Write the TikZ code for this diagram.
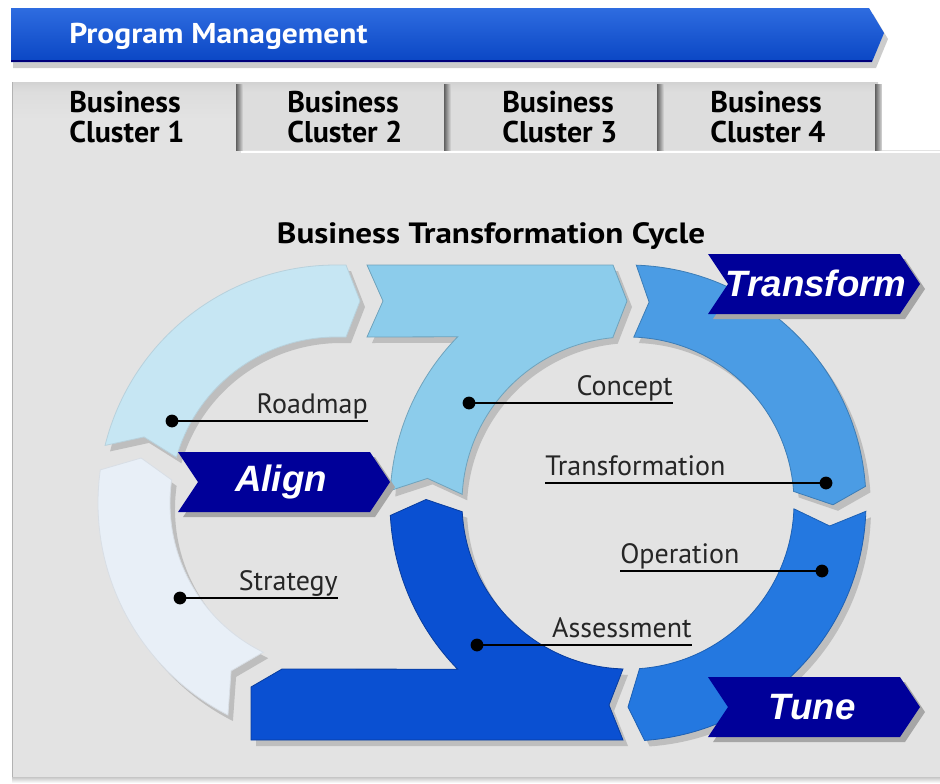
\documentclass[tikz,border=0pt]{standalone}
\usepackage{fontspec}
\setmainfont{PT Sans}
\newfontfamily\arialfont{Liberation Sans}
\usetikzlibrary{calc}
\definecolor{panelgray}{HTML}{E3E3E3}
\definecolor{tabgray}{HTML}{DDDDDD}
\definecolor{cStrat}{HTML}{E8EFF7}
\definecolor{cRoad}{HTML}{C6E6F3}
\definecolor{cConc}{HTML}{8CCCEB}
\definecolor{cTrans}{HTML}{4B9CE4}
\definecolor{cOper}{HTML}{2478E0}
\definecolor{cAsse}{HTML}{0A50D2}
\definecolor{navy}{RGB}{0,0,153}
\definecolor{pmtop}{HTML}{2E6CE0}
\definecolor{pmbot}{HTML}{0A46C4}
\begin{document}
\begin{tikzpicture}[x=0.75pt,y=-0.75pt,
  piece/.style={line width=0.6pt},
  pshadow/.style={fill=black,opacity=0.16},
  lbl/.style={inner sep=0pt,font=\fontsize{21}{24}\selectfont,text=black!85},
  leader/.style={line width=1.5pt,black},
  tabtxt/.style={inner sep=0pt,align=left,font=\bfseries\fontsize{22.5}{22.5}\selectfont},
  bantxt/.style={inner sep=0pt,text=white,font=\arialfont\bfseries\itshape\fontsize{27.5}{30}\selectfont},
  banshadow/.style={fill=gray!70},
  banfill/.style={fill=navy}
]
\useasboundingbox (0,0) rectangle (940,783);
\fill[white] (0,0) rectangle (940,783);

% ---- panel and tabs
\fill[panelgray] (12,150) rectangle (940,777);
\shade[top color=gray!45,bottom color=white] (12,777) rectangle (940,783);
\shade[top color=gray!35,bottom color=tabgray] (12,82) rectangle (878,92);
\fill[tabgray] (12,92) rectangle (878,150);
\fill[panelgray] (12,120) rectangle (239,150);
\shade[top color=tabgray,bottom color=panelgray] (12,92) rectangle (239,120);
\draw[white,line width=1.5pt] (241,151.5) -- (940,151.5);
\draw[gray!60,line width=0.8pt] (12.5,82) -- (12.5,777);
\foreach \sx in {239,447,660,878}{
  \shade[left color=gray!75!black,right color=tabgray] (\sx-3,84) rectangle (\sx+4,150);
}
\fill[white] (882,82) rectangle (940,150);

% ---- program management bar
\fill[black,opacity=0.2] (13,14) -- (873,14) -- (888,39) -- (876,68) -- (13,68) -- cycle;
\shade[top color=pmtop,bottom color=pmbot] (11,8) -- (869,8) -- (884,33) -- (872,62) -- (11,62) -- cycle;
\draw[navy!80!black,line width=1.5pt] (11,61) -- (872,61);
\node[inner sep=0pt,anchor=base west,text=white,font=\bfseries\fontsize{21.5}{24}\selectfont] (pm) at (69,43) {\scalebox{1.1}[1]{Program Management}};

% ---- tabs text
\node[tabtxt,anchor=north west] (tab1) at (69,91) {Business\\Cluster 1};
\node[tabtxt,anchor=north west] (tab2) at (287,91) {Business\\Cluster 2};
\node[tabtxt,anchor=north west] (tab3) at (502,91) {Business\\Cluster 3};
\node[tabtxt,anchor=north west] (tab4) at (710,91) {Business\\Cluster 4};

% ---- title
\node[inner sep=0pt,anchor=base,font=\bfseries\fontsize{22}{24}\selectfont] (title) at (491,243) {\scalebox{1.13}[1]{Business Transformation Cycle}};

% ---- cycle pieces
\def\pStrat{([shift={(188:238)}]336,503) -- ([shift={(193:200)}]336,503) -- ([shift={(188:166)}]336,503) arc[start angle=188,end angle=116,radius=166] -- ([shift={(122:198)}]336,503) -- ([shift={(117:238)}]336,503) arc[start angle=117,end angle=188,radius=238] -- cycle}
\def\pRoad{([shift={(194:238)}]336,503) arc[start angle=194,end angle=270,radius=238] -- (346,265) -- (360,301) -- (346,337) -- ([shift={(270:166)}]336,503) arc[start angle=270,end angle=196,radius=166] -- ([shift={(199:203)}]336,503) -- cycle}
\def\pConc{(367,265) -- (613,265) -- (627,301) -- (613,337) -- ([shift={(264.8:166)}]628,503) arc[start angle=264.8,end angle=183,radius=166] -- ([shift={(187:202)}]628,503) -- ([shift={(183:238)}]628,503) arc[start angle=183,end angle=224.3,radius=238] -- (367,337) -- (383,301) -- cycle}
\def\pAsse{(282,669) -- ([shift={(135.7:238)}]628,503) arc[start angle=135.7,end angle=177,radius=238] -- ([shift={(181:202)}]628,503) -- ([shift={(177:166)}]628,503) arc[start angle=177,end angle=95,radius=166] -- (623,669) -- (609,705) -- (623,740) -- (251,740) -- (251,687) -- cycle}
\def\pTrans{([shift={(272:238)}]628,503) arc[start angle=272,end angle=356,radius=238] -- ([shift={(0.5:205)}]628,503) -- ([shift={(356:166)}]628,503) arc[start angle=356,end angle=272,radius=166] -- ([shift={(276:202)}]628,503) -- cycle}
\def\pOper{([shift={(2:238)}]628,503) -- ([shift={(6.5:203)}]628,503) -- ([shift={(2:166)}]628,503) arc[start angle=2,end angle=86,radius=166] -- ([shift={(90:204)}]628,503) -- ([shift={(86:238)}]628,503) arc[start angle=86,end angle=2,radius=238] -- cycle}

\foreach \pp in {\pStrat,\pRoad,\pConc,\pAsse,\pTrans,\pOper}{
  \fill[pshadow,shift={(5,6)}] \pp;
}
\filldraw[piece,fill=cStrat,draw=cStrat!85!gray] \pStrat;
\filldraw[piece,fill=cRoad,draw=cRoad!80!gray] \pRoad;
\filldraw[piece,fill=cConc,draw=cConc!80!black] \pConc;
\filldraw[piece,fill=cAsse,draw=cAsse!75!black] \pAsse;
\filldraw[piece,fill=cTrans,draw=cTrans!80!black] \pTrans;
\filldraw[piece,fill=cOper,draw=cOper!80!black] \pOper;

% ---- labels with leaders
\node[lbl,anchor=base east] (tRoad) at (368,413) {Roadmap};
\coordinate (dRoad) at (172,421);
\node[lbl,anchor=base east] (tConc) at (673,395) {Concept};
\coordinate (dConc) at (469,403);
\node[lbl,anchor=base west] (tTrans) at (545,475) {Transformation};
\coordinate (dTrans) at (826,483);
\node[lbl,anchor=base west] (tOper) at (620,563) {Operation};
\coordinate (dOper) at (822,571);
\node[lbl,anchor=base east] (tAsse) at (692,637) {Assessment};
\coordinate (dAsse) at (477,645);
\node[lbl,anchor=base east] (tStrat) at (338,590) {Strategy};
\coordinate (dStrat) at (180,598);

\draw[leader] (dRoad) -- (dRoad -| tRoad.east);
\draw[leader] (dConc) -- (dConc -| tConc.east);
\draw[leader] (tTrans.west |- dTrans) -- (dTrans);
\draw[leader] (tOper.west |- dOper) -- (dOper);
\draw[leader] (dAsse) -- (dAsse -| tAsse.east);
\draw[leader] (dStrat) -- (dStrat -| tStrat.east);
\foreach \dd in {dRoad,dConc,dTrans,dOper,dAsse,dStrat}{
  \fill[black] (\dd) circle[radius=4.8pt];
}

% ---- banners
\def\banner#1#2{(#1,#2) -- ++(192,0) -- ++(20,30) -- ++(-20,30) -- ++(-192,0) -- ++(20,-30) -- cycle}
\fill[banshadow] \banner{183}{457};
\fill[banfill] \banner{178}{452};
\node[bantxt,anchor=base] (bAlign) at (281,491) {Align};
\fill[banshadow] \banner{713}{259};
\fill[banfill] \banner{708}{254};
\node[bantxt,anchor=base] (bTrans) at (816,296) {Transform};
\fill[banshadow] \banner{713}{682};
\fill[banfill] \banner{708}{677};
\node[bantxt,anchor=base] (bTune) at (812,719) {Tune};
\end{tikzpicture}
\end{document}
